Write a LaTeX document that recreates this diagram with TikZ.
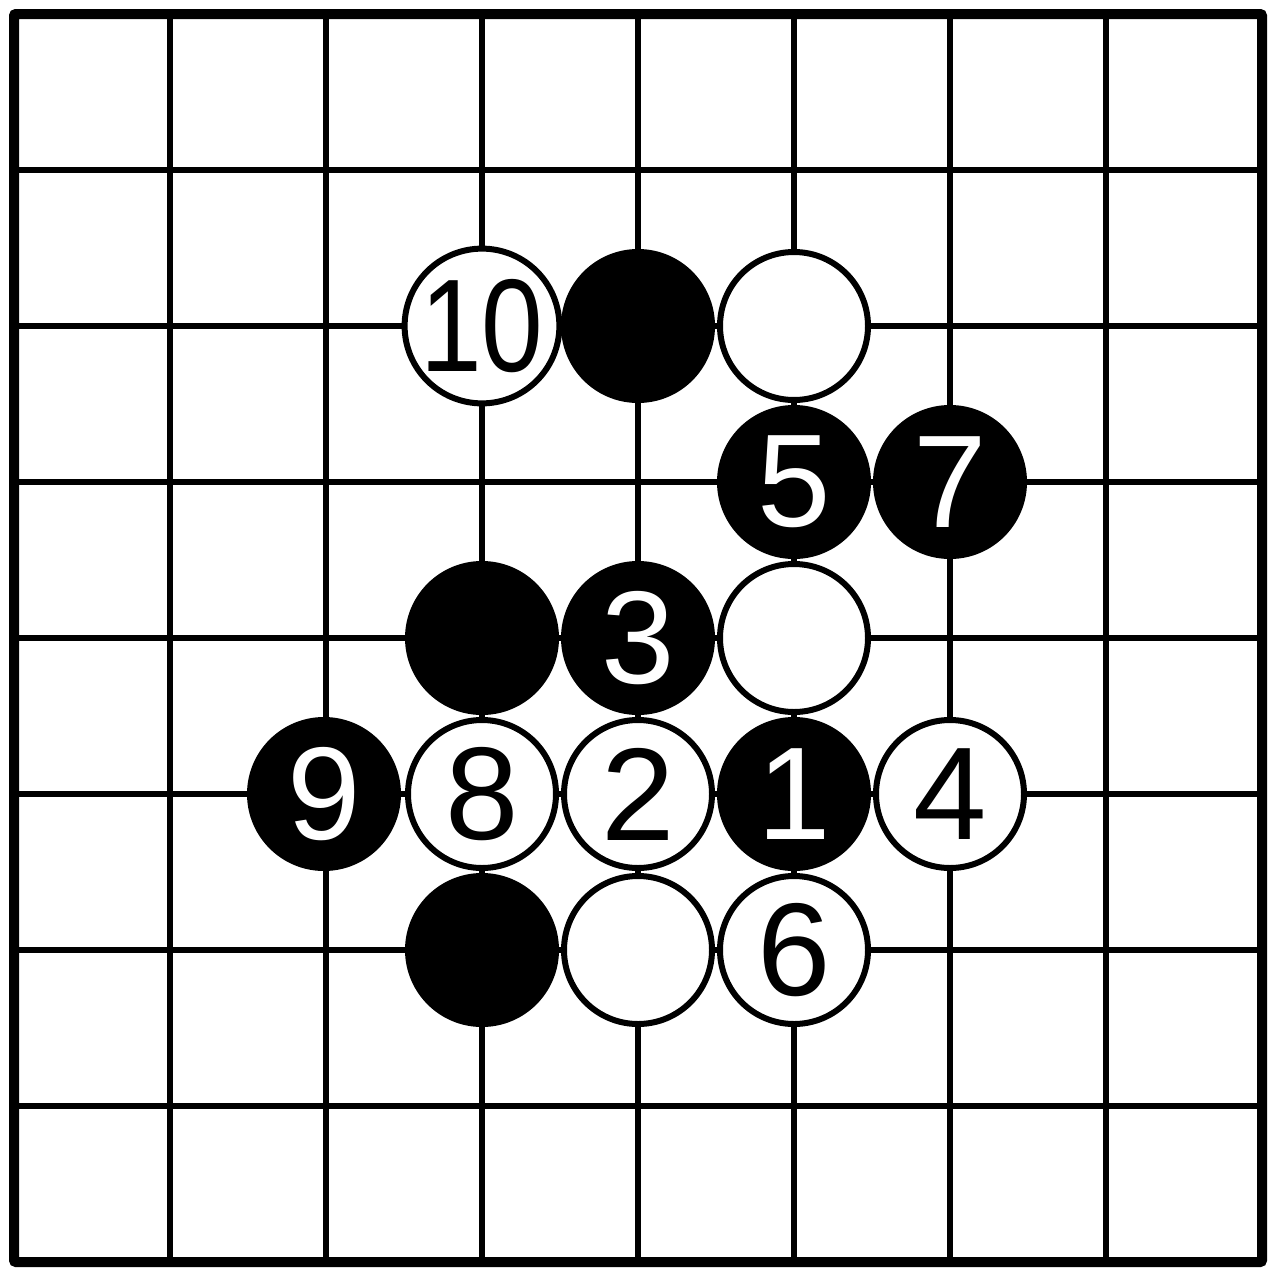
\documentclass[tikz,border=0pt]{standalone}
\usepackage{fontspec}
\setmainfont{Liberation Sans}
\tikzset{
  gridline/.style={line width=6pt, black},
  boardedge/.style={line width=10pt, black, rounded corners=2pt},
  stone/.style={circle, minimum size=148pt, inner sep=0pt, line width=6pt, draw=black,
    font=\fontsize{132}{132}\selectfont},
  blackstone/.style={stone, fill=black, text=white},
  whitestone/.style={stone, fill=white, text=black}
}
\begin{document}
\begin{tikzpicture}[x=1pt, y=-1pt]
\useasboundingbox (0,0) rectangle (1274,1280);
\fill[white] (0,0) rectangle (1274,1280);
% grid
\foreach \k in {1,...,7} {
  \draw[gridline] ({14+156*\k},14) -- ({14+156*\k},1262);
  \draw[gridline] (14,{14+156*\k}) -- (1262,{14+156*\k});
}
\draw[boardedge] (14,14) rectangle (1262,1262);
% stones
\node[whitestone] (w10) at (482,326) {\scalebox{0.84}[1]{10}};
\node[blackstone] (b1) at (638,326) {};
\node[whitestone] (w1) at (794,326) {};
\node[blackstone] (b5) at (794,482) {5};
\node[blackstone] (b7) at (950,482) {7};
\node[blackstone] (b2) at (482,638) {};
\node[blackstone] (b3) at (638,638) {3};
\node[whitestone] (w2) at (794,638) {};
\node[blackstone] (b9) at (324,794) {9};
\node[whitestone] (w8) at (482,794) {8};
\node[whitestone] (w2n) at (638,794) {2};
\node[blackstone] (b1n) at (794,794) {1};
\node[whitestone] (w4) at (950,794) {4};
\node[blackstone] (b4) at (482,950) {};
\node[whitestone] (w5) at (638,950) {};
\node[whitestone] (w6) at (794,950) {6};
\end{tikzpicture}
\end{document}
